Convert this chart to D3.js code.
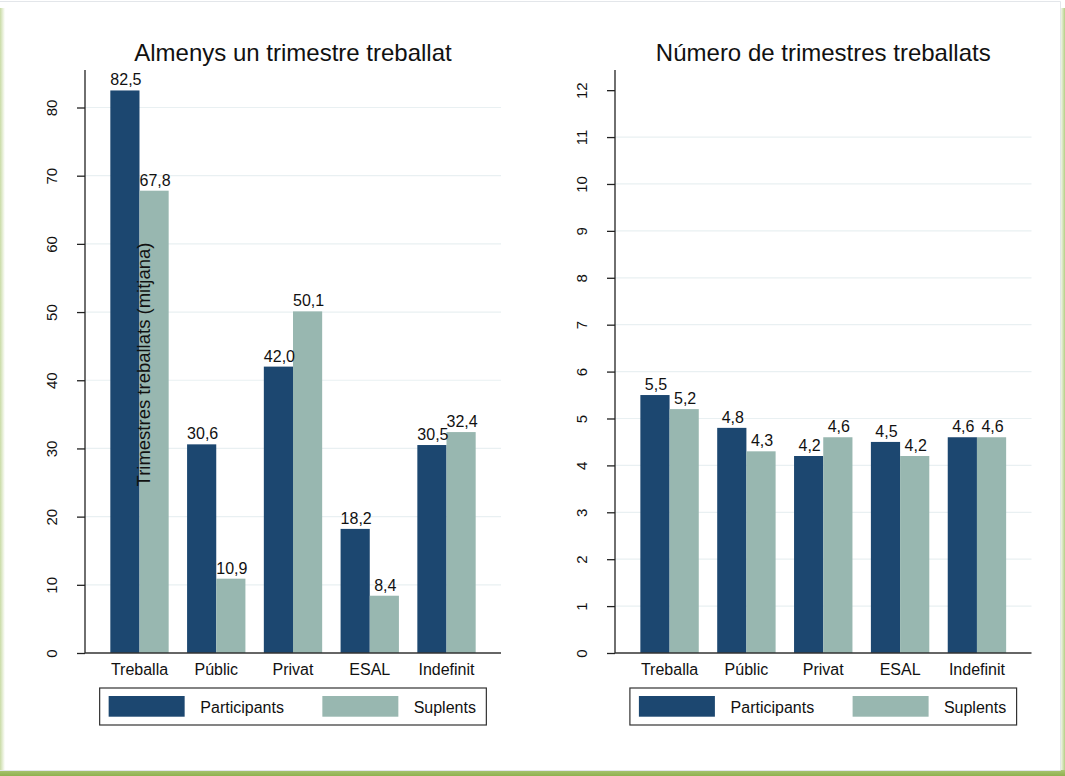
<!DOCTYPE html>
<html>
<head>
<meta charset="utf-8">
<script src="https://cdn.jsdelivr.net/npm/d3@7"></script>
<style>
  body { margin: 0; background: #fff; }
  svg text { font-family: "Liberation Sans", Arial, sans-serif; fill: #111; }
</style>
</head>
<body>
<div id="chart"></div>
<script>
// categories and series
const categories = ["Treballa", "Públic", "Privat", "ESAL", "Indefinit"]
const seriesNames = ["Participants", "Suplents"]
// left panel: at least one quarter worked (%)
const almenysParticipants = [82.5, 30.6, 42.0, 18.2, 30.5]
const almenysSuplents = [67.8, 10.9, 50.1, 8.4, 32.4]
const almenysTicks = [0, 10, 20, 30, 40, 50, 60, 70, 80]
// right panel: number of quarters worked
const numeroParticipants = [5.5, 4.8, 4.2, 4.5, 4.6]
const numeroSuplents = [5.2, 4.3, 4.6, 4.2, 4.6]
const numeroTicks = [0, 1, 2, 3, 4, 5, 6, 7, 8, 9, 10, 11, 12]

const width = 1065, height = 776
const colors = ["#1c4770", "#98b7b0"]
const fmt = d => d3.format(".1f")(d).replace(".", ",")

let svg = d3.select("#chart")
    .append("svg")
    .attr("width", width)
    .attr("height", height)

// frame (green shadow round the white page)
let defs = svg.append("defs")
let gl = defs.append("linearGradient").attr("id", "gLeft")
gl.append("stop").attr("offset", "0%").attr("stop-color", "#c9dba6")
gl.append("stop").attr("offset", "100%").attr("stop-color", "#ffffff")
let gr = defs.append("linearGradient").attr("id", "gRight")
gr.append("stop").attr("offset", "0%").attr("stop-color", "#ffffff")
gr.append("stop").attr("offset", "100%").attr("stop-color", "#b5cf86")
let gb = defs.append("linearGradient").attr("id", "gBottom")
    .attr("x1", 0).attr("y1", 0).attr("x2", 0).attr("y2", 1)
gb.append("stop").attr("offset", "0%").attr("stop-color", "#a9c672")
gb.append("stop").attr("offset", "100%").attr("stop-color", "#8fb04f")

svg.append("rect").attr("x", 0).attr("y", 8).attr("width", 5).attr("height", 762).attr("fill", "url(#gLeft)")
svg.append("rect").attr("x", 1060).attr("y", 8).attr("width", 5).attr("height", 762).attr("fill", "url(#gRight)")
svg.append("rect").attr("x", 0).attr("y", 770).attr("width", width).attr("height", 6).attr("fill", "url(#gBottom)")
svg.append("path")
    .attr("d", `M0,1.5 H1060.5 V770.5 H0`)
    .attr("fill", "none")
    .attr("stroke", "#e3e6ea")
    .attr("stroke-width", 1)

function drawPanel(opts) {
    let g = svg.append("g")
    let y = d3.scaleLinear()
        .domain([0, opts.yMax])
        .range([653, 70])
    let x = d3.scaleBand()
        .domain(categories)
        .range([opts.x0, opts.x1])
        .paddingInner(0.24)
        .paddingOuter(0.33)
    let xSub = d3.scaleBand()
        .domain(seriesNames)
        .range([0, x.bandwidth()])
    let center = (opts.x0 + opts.x1) / 2

    //网格线
    g.selectAll(".grid")
        .data(opts.ticks.filter(t => t > 0 && t < opts.yMax * 0.95))
        .enter()
        .append("line")
        .attr("x1", opts.x0)
        .attr("x2", opts.x1)
        .attr("y1", d => y(d))
        .attr("y2", d => y(d))
        .attr("stroke", "#e9f0f2")
        .attr("stroke-width", 1.2)

    // bars
    let rows = categories.map((c, i) => ({
        cat: c,
        vals: [opts.participants[i], opts.suplents[i]]
    }))
    let groups = g.selectAll(".grp")
        .data(rows)
        .enter()
        .append("g")
        .attr("transform", d => `translate(${x(d.cat)},0)`)
    groups.selectAll("rect")
        .data(d => d.vals.map((v, j) => ({ name: seriesNames[j], v: v, j: j })))
        .enter()
        .append("rect")
        .attr("x", d => xSub(d.name))
        .attr("y", d => y(d.v))
        .attr("width", xSub.bandwidth())
        .attr("height", d => y(0) - y(d.v))
        .attr("fill", d => colors[d.j])
    groups.selectAll("text")
        .data(d => d.vals.map((v, j) => ({ name: seriesNames[j], v: v })))
        .enter()
        .append("text")
        .attr("x", d => xSub(d.name) + xSub.bandwidth() / 2 + 1)
        .attr("y", d => y(d.v) - 5)
        .attr("text-anchor", "middle")
        .style("font-size", "16px")
        .text(d => fmt(d.v))

    // y axis
    let yAxis = d3.axisLeft(y)
        .tickValues(opts.ticks)
        .tickSize(8)
        .tickPadding(20)
        .tickFormat(d3.format("d"))
    let ya = g.append("g")
        .attr("transform", `translate(${opts.x0},0)`)
        .call(yAxis)
    ya.select(".domain").attr("stroke", "#222").attr("stroke-width", 1.3).attr("d", `M0,${y(0)}V70`)
    ya.selectAll(".tick line").attr("stroke", "#222").attr("stroke-width", 1.3)
    ya.selectAll(".tick text")
        .style("font-size", "15px")
        .style("font-family", "'Liberation Sans', Arial, sans-serif")
        .attr("fill", "#111")
        .attr("text-anchor", "middle")
        .attr("dy", 0)
        .attr("x", 0)
        .attr("transform", d => `translate(-28,${0}) rotate(-90)`)

    // x axis
    g.append("line")
        .attr("x1", opts.x0)
        .attr("x2", opts.x1)
        .attr("y1", y(0))
        .attr("y2", y(0))
        .attr("stroke", "#333")
        .attr("stroke-width", 1.3)
    g.selectAll(".cat")
        .data(categories)
        .enter()
        .append("text")
        .attr("x", d => x(d) + x.bandwidth() / 2)
        .attr("y", 675)
        .attr("text-anchor", "middle")
        .style("font-size", "16px")
        .text(d => d)

    // title
    g.append("text")
        .attr("x", center)
        .attr("y", 61)
        .attr("text-anchor", "middle")
        .style("font-size", "24px")
        .text(opts.title)

    // legend
    let lw = 386.7, lx = center - lw / 2
    let leg = g.append("g").attr("transform", `translate(${lx},688)`)
    leg.append("rect")
        .attr("width", lw)
        .attr("height", 37)
        .attr("fill", "#fff")
        .attr("stroke", "#333")
        .attr("stroke-width", 1.2)
    let keyX = [9, 222.7], labX = [100.7, 314]
    seriesNames.forEach((s, i) => {
        leg.append("rect")
            .attr("x", keyX[i])
            .attr("y", 8)
            .attr("width", 76)
            .attr("height", 20.7)
            .attr("fill", colors[i])
        leg.append("text")
            .attr("x", labX[i])
            .attr("y", 24.5)
            .style("font-size", "16px")
            .text(s)
    })

    if (opts.yTitle) {
        g.append("text")
            .attr("transform", `translate(150,364.5) rotate(-90)`)
            .attr("text-anchor", "middle")
            .style("font-size", "18.5px")
            .text(opts.yTitle)
    }
}

drawPanel({
    x0: 85, x1: 501, yMax: 85.5,
    ticks: almenysTicks,
    participants: almenysParticipants,
    suplents: almenysSuplents,
    title: "Almenys un trimestre treballat",
    yTitle: "Trimestres treballats (mitjana)"
})
drawPanel({
    x0: 615, x1: 1031.5, yMax: 12.43,
    ticks: numeroTicks,
    participants: numeroParticipants,
    suplents: numeroSuplents,
    title: "Número de trimestres treballats"
})
</script>
</body>
</html>
